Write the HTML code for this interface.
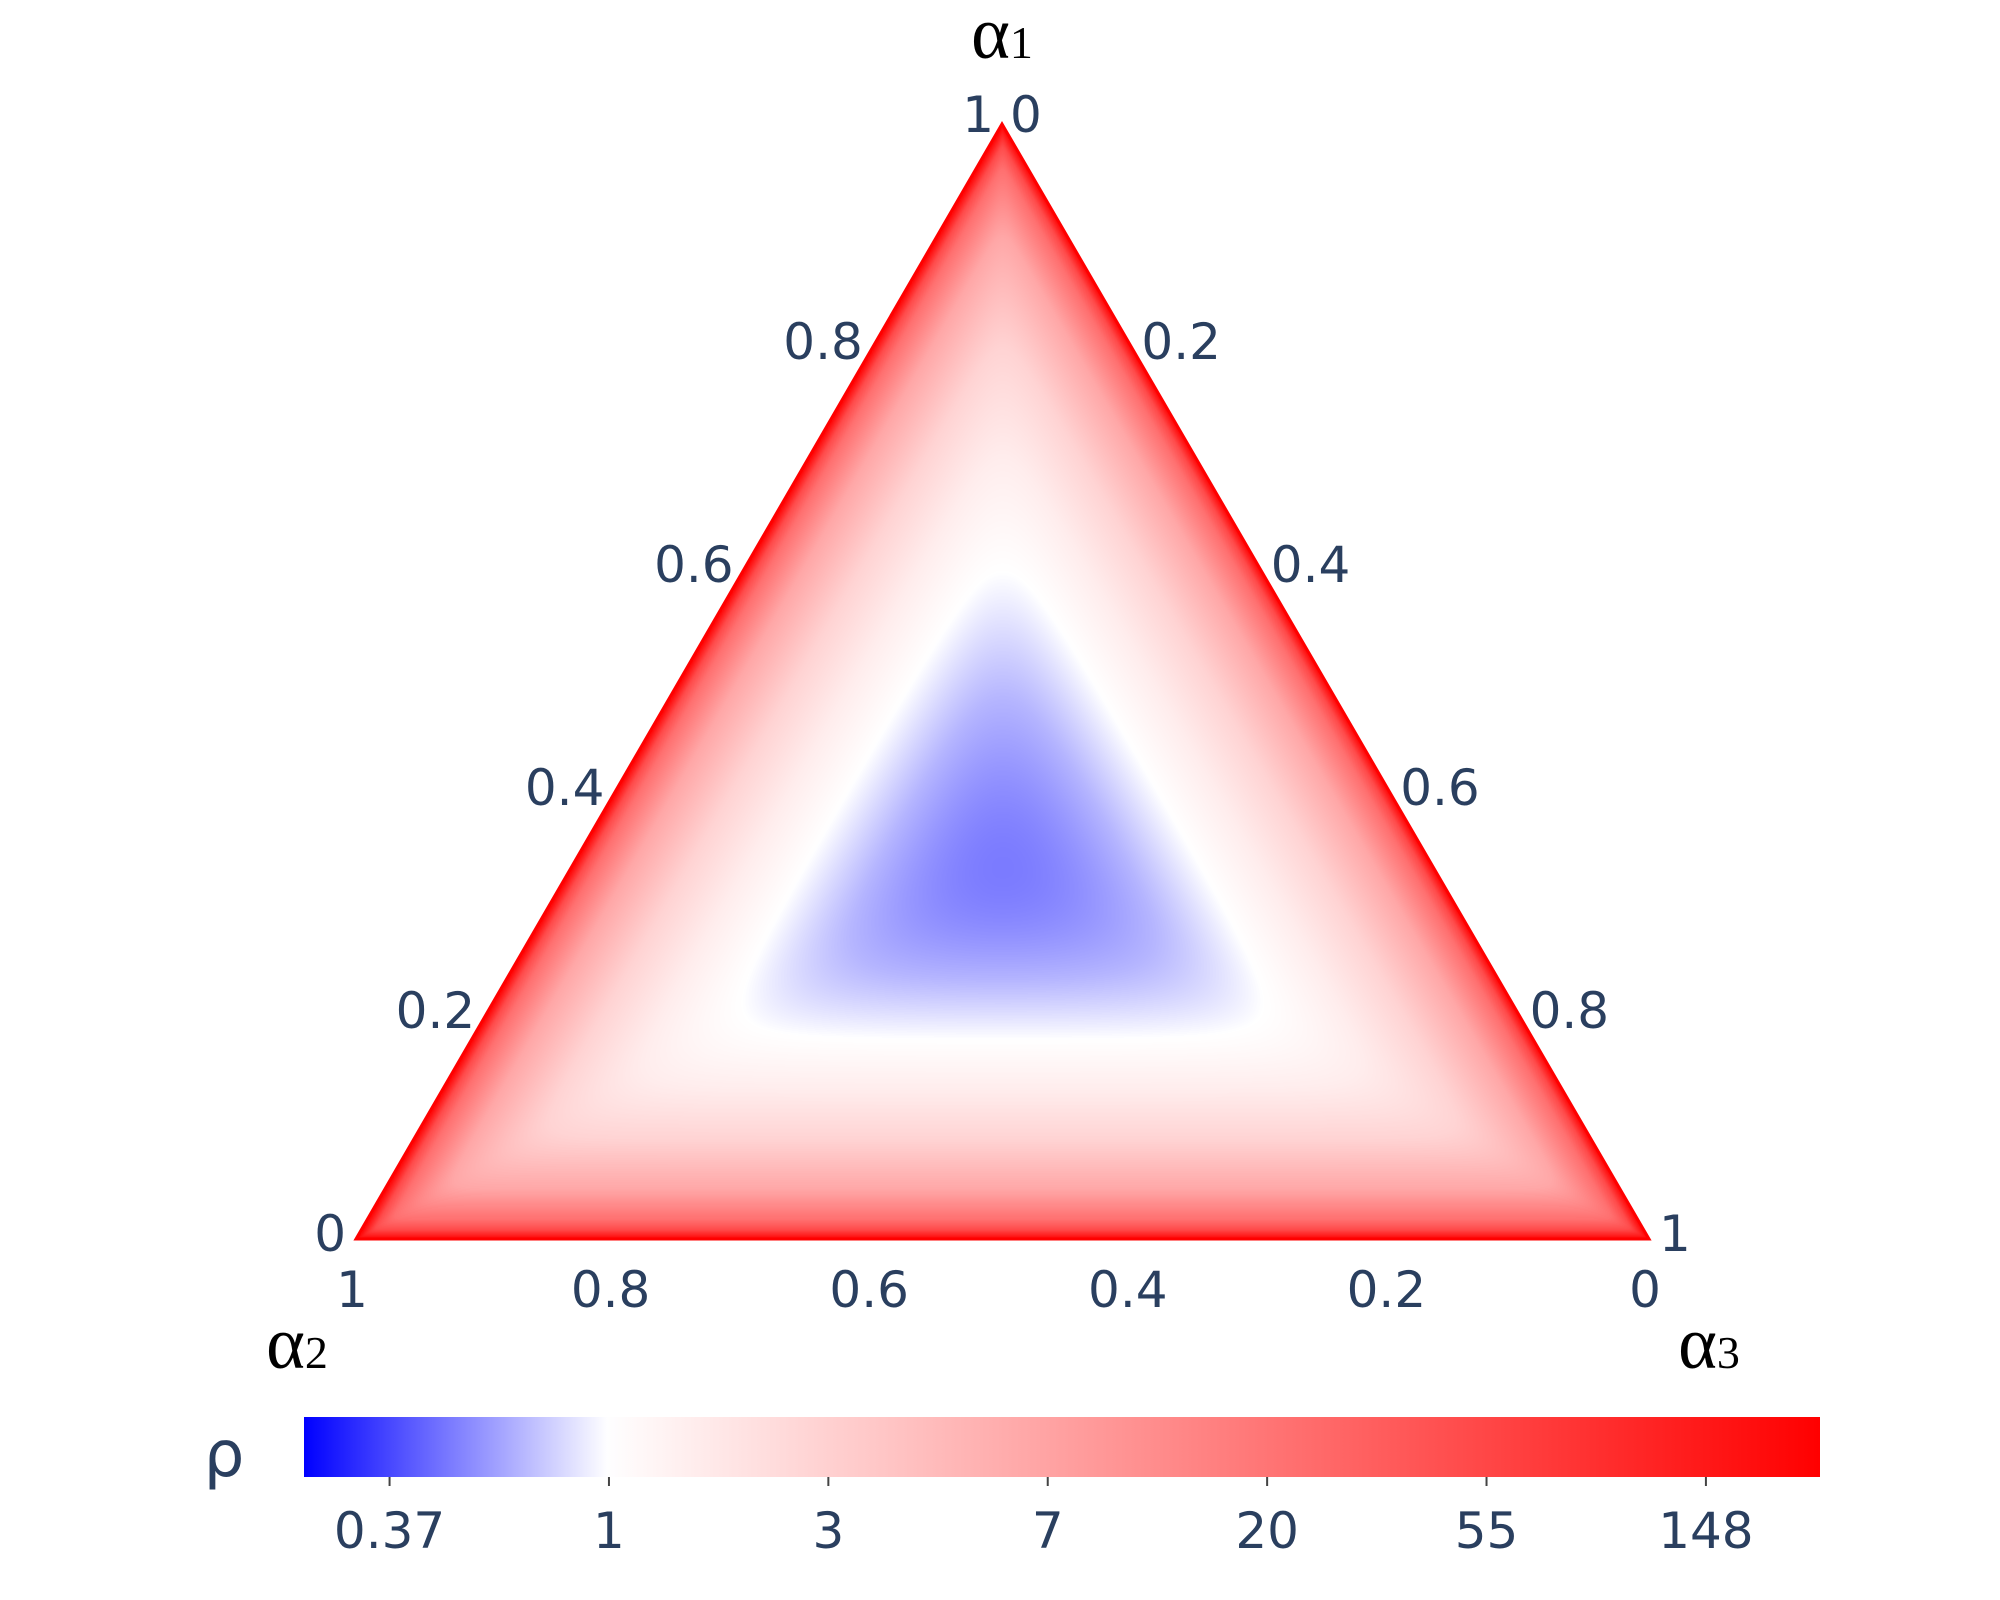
<!DOCTYPE html>
<html><head><meta charset="utf-8">
<style>
html,body{margin:0;padding:0;background:#fff;}
#wrap{position:relative;width:2000px;height:1600px;overflow:hidden;}
svg,canvas{position:absolute;left:0;top:0;}
text{font-family:"DejaVu Sans","Liberation Sans",sans-serif;fill:#2a3f5f;}
.ser{font-family:"Liberation Serif","DejaVu Serif",serif;fill:#000;}
</style></head>
<body>
<div id="wrap">
<svg id="under" width="2000" height="1600"></svg>
<canvas id="cv" width="2000" height="1600"></canvas>
<svg id="over" width="2000" height="1600"></svg>
</div>
<script>
// data: log(rho) as a function of (soft) min(alpha_i)
const minVals = [0, 0.0107, 0.0215, 0.054, 0.107, 0.16, 0.215, 0.275, 0.3334];
const logRho  = [5.52, 3.9, 3.1, 1.9, 0.95, 0.4, 0.0, -0.4, -0.72];
const axisTicks = [0.2, 0.4, 0.6, 0.8];
const cbTickVals = [-1, 0, 1, 2, 3, 4, 5];
const cbTickLabels = ["0.37", "1", "3", "7", "20", "55", "148"];
const cbMin = -1.39, cbMax = 5.52;

const A = {x:1002, y:124}, L = {x:356, y:1239}, R = {x:1649, y:1239};
const NS = "http://www.w3.org/2000/svg";
function mk(parent, tag, attrs, txt){
  const e = document.createElementNS(NS, tag);
  for (const k in attrs) e.setAttribute(k, attrs[k]);
  if (txt !== undefined) e.textContent = txt;
  parent.appendChild(e); return e;
}
function pt(a1,a2,a3){ return {x:a1*A.x+a2*L.x+a3*R.x, y:a1*A.y+a2*L.y+a3*R.y}; }
function lv(m){
  if (m <= minVals[0]) return logRho[0];
  for (let i=1;i<minVals.length;i++){
    if (m <= minVals[i]){
      const t=(m-minVals[i-1])/(minVals[i]-minVals[i-1]);
      return logRho[i-1]+t*(logRho[i]-logRho[i-1]);
    }
  }
  return logRho[logRho.length-1];
}
function softMin(a,b,c){
  const p=6, e=1e-9;
  return Math.pow((Math.pow(a+e,-p)+Math.pow(b+e,-p)+Math.pow(c+e,-p))/3, -1/p);
}
function color(v){
  if (v < 0){ const t = Math.min(1, v/cbMin); const c = Math.round(255*(1-t)); return [c,c,255]; }
  const t = Math.min(1, v/cbMax); const c = Math.round(255*(1-t)); return [255,c,c];
}
const cv = document.getElementById('cv'), ctx = cv.getContext('2d');
const img = ctx.createImageData(2000,1600);
const det = (L.y-R.y)*(A.x-R.x)+(R.x-L.x)*(A.y-R.y);
for (let y=Math.floor(A.y); y<=L.y; y++){
  for (let x=Math.floor(L.x); x<=R.x; x++){
    const a1 = ((L.y-R.y)*(x-R.x)+(R.x-L.x)*(y-R.y))/det;
    const a2 = ((R.y-A.y)*(x-R.x)+(A.x-R.x)*(y-R.y))/det;
    const a3 = 1-a1-a2;
    if (a1<0||a2<0||a3<0) continue;
    const c = color(lv(softMin(a1,a2,a3)));
    const i=(y*2000+x)*4;
    img.data[i]=c[0]; img.data[i+1]=c[1]; img.data[i+2]=c[2]; img.data[i+3]=255;
  }
}
ctx.putImageData(img,0,0);

const under = document.getElementById('under');
const t10 = mk(under,'text',{x:A.x,y:132,'font-size':50,'text-anchor':'middle'},'1.0');



const over = document.getElementById('over');
const edge = mk(over,'polygon',{points:`${A.x},${A.y} ${L.x},${L.y} ${R.x},${R.y}`,fill:'none',stroke:'#ff0000','stroke-width':3});



axisTicks.concat([0]).forEach(v=>{
  const p = pt(v,1-v,0);
  const t = mk(over,'text',{x:p.x-10,y:p.y+12,'font-size':50,'text-anchor':'end'}, v===0?'0':v.toFixed(1));
  
  
});
axisTicks.concat([1]).forEach(v=>{
  const p = pt(1-v,0,v);
  const t = mk(over,'text',{x:p.x+10,y:p.y+12,'font-size':50,'text-anchor':'start'}, v===1?'1':v.toFixed(1));
  
  
});
[1,0.8,0.6,0.4,0.2,0].forEach(v=>{
  const p = pt(0,v,1-v);
  const lab = (v===1)?'1':(v===0?'0':v.toFixed(1));
  const t = mk(over,'text',{x:p.x-4,y:p.y+68,'font-size':50,'text-anchor':'middle'}, lab);
  
  
});
function title(x,y,sub,name){
  const t = mk(over,'text',{x:x,y:y,'font-size':74,'text-anchor':'middle',class:'ser'});
  mk(t,'tspan',{},'α');
  mk(t,'tspan',{'font-size':46},sub);
  
  
}
title(1002,58,'1','a1-axis-title');
title(297,1368,'2','a2-axis-title');
title(1709,1368,'3','a3-axis-title');

const cbX0=304, cbX1=1820, cbY0=1417, cbY1=1477;
const defs = mk(over,'defs',{});
const grad = mk(defs,'linearGradient',{id:'cbg',x1:0,x2:1,y1:0,y2:0});
for (let k=0;k<=40;k++){
  const v = cbMin + (cbMax-cbMin)*k/40;
  const c = color(v);
  mk(grad,'stop',{offset:(k/40),'stop-color':`rgb(${c[0]},${c[1]},${c[2]})`});
}
const bar = mk(over,'rect',{x:cbX0,y:cbY0,width:cbX1-cbX0,height:cbY1-cbY0,fill:'url(#cbg)'});


function cbx(v){ return cbX0 + (v-cbMin)/(cbMax-cbMin)*(cbX1-cbX0); }
cbTickVals.forEach((v,i)=>{
  const x = cbx(v);
  const tk = mk(over,'line',{x1:x,x2:x,y1:cbY1,y2:cbY1+9,stroke:'#444','stroke-width':2});
  
  
  const t = mk(over,'text',{x:x,y:1548,'font-size':50,'text-anchor':'middle'},cbTickLabels[i]);
  
  
});
const rho = mk(over,'text',{x:224,y:1476,'font-size':64,'text-anchor':'middle'},'ρ');


</script>
</body></html>
